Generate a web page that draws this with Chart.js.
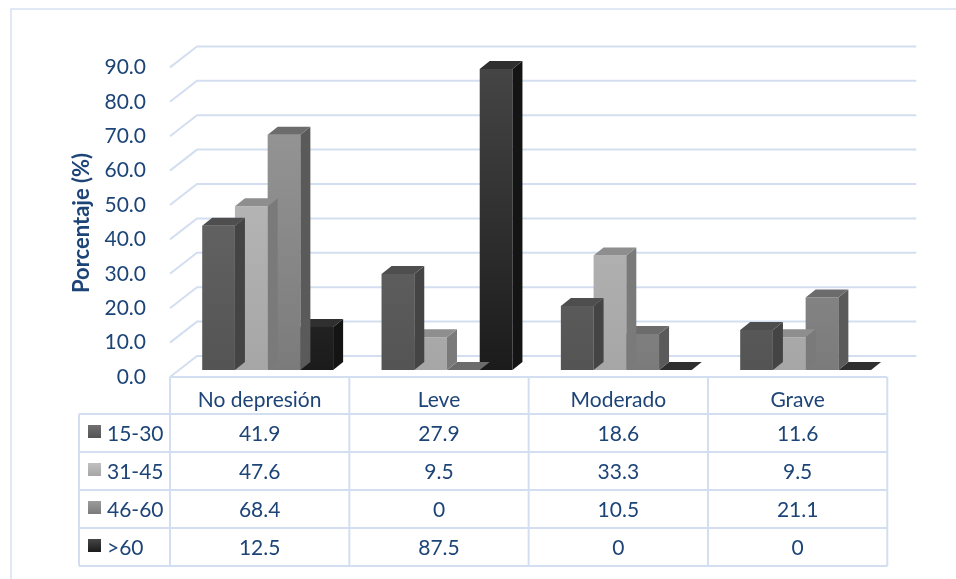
<!DOCTYPE html>
<html><head><meta charset="utf-8">
<script src="https://cdn.jsdelivr.net/npm/chart.js@4"></script>
<style>html,body{margin:0;padding:0;background:#fff;} canvas{display:block}</style>
</head><body>
<canvas id="c" width="956" height="579"></canvas>
<script>
// ---- data ----
const categories = ['No depresión', 'Leve', 'Moderado', 'Grave'];
const seriesNames = ['15-30', '31-45', '46-60', '>60'];
const s15_30 = [41.9, 27.9, 18.6, 11.6];
const s31_45 = [47.6, 9.5, 33.3, 9.5];
const s46_60 = [68.4, 0, 10.5, 21.1];
const s60 = [12.5, 87.5, 0, 0];
const yMin = 0, yMax = 90, yStep = 10;
const yTitle = 'Porcentaje (%)';

// ---- style ----
const FONT = 'Lato, Carlito, "Open Sans", sans-serif';
const TEXT = '#1d4477';
const GRID = '#d3dff0';
const DX = 10, DY = 8;            // bar depth
const FRONT = { x: -8, y: 7 };    // front plane offset from bar plane
const BACK = { x: 19, y: -14 };   // back wall offset from bar plane
const palette = [
  { top: '#707070', bot: '#545454', lid: '#4e4e4e', side: '#444444' },
  { top: '#c0c0c0', bot: '#a6a6a6', lid: '#8e8e8e', side: '#7a7a7a' },
  { top: '#9b9b9b', bot: '#7b7b7b', lid: '#6c6c6c', side: '#5a5a5a' },
  { top: '#464646', bot: '#1b1b1b', lid: '#2f2f2f', side: '#141414' }
];
const seriesValues = [s15_30, s31_45, s46_60, s60];

function frontFill(i) {
  return (ctx) => {
    const ca = ctx.chart.chartArea;
    if (!ca) return palette[i].bot;
    const g = ctx.chart.ctx.createLinearGradient(0, ca.top, 0, ca.bottom);
    g.addColorStop(0, palette[i].top);
    g.addColorStop(1, palette[i].bot);
    return g;
  };
}

const threeD = {
  id: 'threeD',
  beforeDatasetsDraw(chart) {
    const c = chart.ctx, ys = chart.scales.y, xs = chart.scales.x;
    c.save();
    // outer border
    c.strokeStyle = '#d6e1f1'; c.lineWidth = 1.5;
    c.beginPath(); c.moveTo(11, 600); c.lineTo(11, 9); c.lineTo(970, 9); c.stroke();
    // back wall grid
    c.strokeStyle = GRID; c.lineWidth = 2;
    for (let v = yMin; v <= yMax; v += yStep) {
      const py = ys.getPixelForValue(v);
      c.beginPath();
      c.moveTo(xs.left + FRONT.x, py + FRONT.y);
      c.lineTo(xs.left + BACK.x, py + BACK.y);
      c.lineTo(xs.right + BACK.x + 2, py + BACK.y);
      c.stroke();
    }
    c.restore();
  },
  afterDatasetDraw(chart, args) {
    const c = chart.ctx, i = args.index, p = palette[i];
    c.save();
    args.meta.data.forEach(bar => {
      const { x, y, base, width } = bar.getProps(['x', 'y', 'base', 'width'], true);
      const l = x - width / 2, r = x + width / 2;
      // side
      c.fillStyle = p.side;
      c.beginPath();
      c.moveTo(r, y); c.lineTo(r + DX, y - DY); c.lineTo(r + DX, base - DY); c.lineTo(r, base);
      c.closePath(); c.fill();
      // top
      c.fillStyle = p.lid;
      c.beginPath();
      c.moveTo(l, y); c.lineTo(l + DX, y - DY); c.lineTo(r + DX, y - DY); c.lineTo(r, y);
      c.closePath(); c.fill();
    });
    c.restore();
  },
  afterDraw(chart) {
    const c = chart.ctx, ys = chart.scales.y, xs = chart.scales.x;
    const n = categories.length;
    const colW = (xs.right - xs.left) / n;
    const x0 = xs.left + FRONT.x;
    const tTop = ys.getPixelForValue(0) + FRONT.y;
    const headH = 37, rowH = 38;
    const labX = x0 - 91;
    const rowTops = [];
    for (let r = 0; r < seriesNames.length; r++) rowTops.push(tTop + headH + r * rowH);
    const tBot = tTop + headH + seriesNames.length * rowH;
    c.save();
    // title
    c.fillStyle = TEXT;
    c.font = 'bold 22px ' + FONT;
    c.textAlign = 'center'; c.textBaseline = 'middle';
    c.translate(82, 223); c.rotate(-Math.PI / 2); c.fillText(yTitle, 0, 0);
    c.setTransform(1, 0, 0, 1, 0, 0);
    // table lines
    c.strokeStyle = GRID; c.lineWidth = 2;
    c.beginPath();
    c.moveTo(x0, tTop); c.lineTo(x0 + n * colW, tTop);
    for (let k = 0; k <= n; k++) { c.moveTo(x0 + k * colW, tTop); c.lineTo(x0 + k * colW, tBot); }
    c.moveTo(labX, rowTops[0]); c.lineTo(labX, tBot);
    rowTops.concat([tBot]).forEach(yy => { c.moveTo(labX, yy); c.lineTo(x0 + n * colW, yy); });
    c.stroke();
    // header
    c.fillStyle = TEXT;
    c.font = '21px ' + FONT;
    c.textBaseline = 'alphabetic'; c.textAlign = 'center';
    categories.forEach((cat, k) => c.fillText(cat, x0 + (k + 0.5) * colW, tTop + 30));
    // rows
    seriesNames.forEach((name, r) => {
      const top = rowTops[r];
      const g = c.createLinearGradient(0, top + 11, 0, top + 24);
      g.addColorStop(0, palette[r].top); g.addColorStop(1, palette[r].bot);
      c.fillStyle = g; c.fillRect(labX + 9, top + 11, 13, 13);
      c.fillStyle = TEXT; c.textAlign = 'left';
      c.fillText(name, labX + 28, top + 26.5);
      c.textAlign = 'center';
      seriesValues[r].forEach((v, k) => c.fillText(String(v), x0 + (k + 0.5) * colW, top + 26.5));
    });
    c.restore();
  }
};

new Chart(document.getElementById('c'), {
  type: 'bar',
  data: {
    labels: categories,
    datasets: seriesNames.map((nm, i) => ({
      label: nm,
      data: seriesValues[i],
      backgroundColor: frontFill(i),
      borderWidth: 0,
      categoryPercentage: 0.73,
      barPercentage: 1.0
    }))
  },
  options: {
    responsive: false,
    animation: false,
    devicePixelRatio: 1,
    layout: { padding: { left: 0, top: 60.4, right: 60.7, bottom: 209 } },
    plugins: { legend: { display: false }, tooltip: { enabled: false } },
    scales: {
      x: { display: false },
      y: {
        min: yMin, max: yMax,
        afterFit: (s) => { s.width = 178; },
        grid: { display: false, drawTicks: false },
        border: { display: false },
        ticks: {
          stepSize: yStep,
          padding: 32,
          labelOffset: 7,
          color: TEXT,
          font: { family: FONT, size: 21 },
          callback: (v) => Number(v).toFixed(1)
        }
      }
    }
  },
  plugins: [threeD]
});
</script>
</body></html>
